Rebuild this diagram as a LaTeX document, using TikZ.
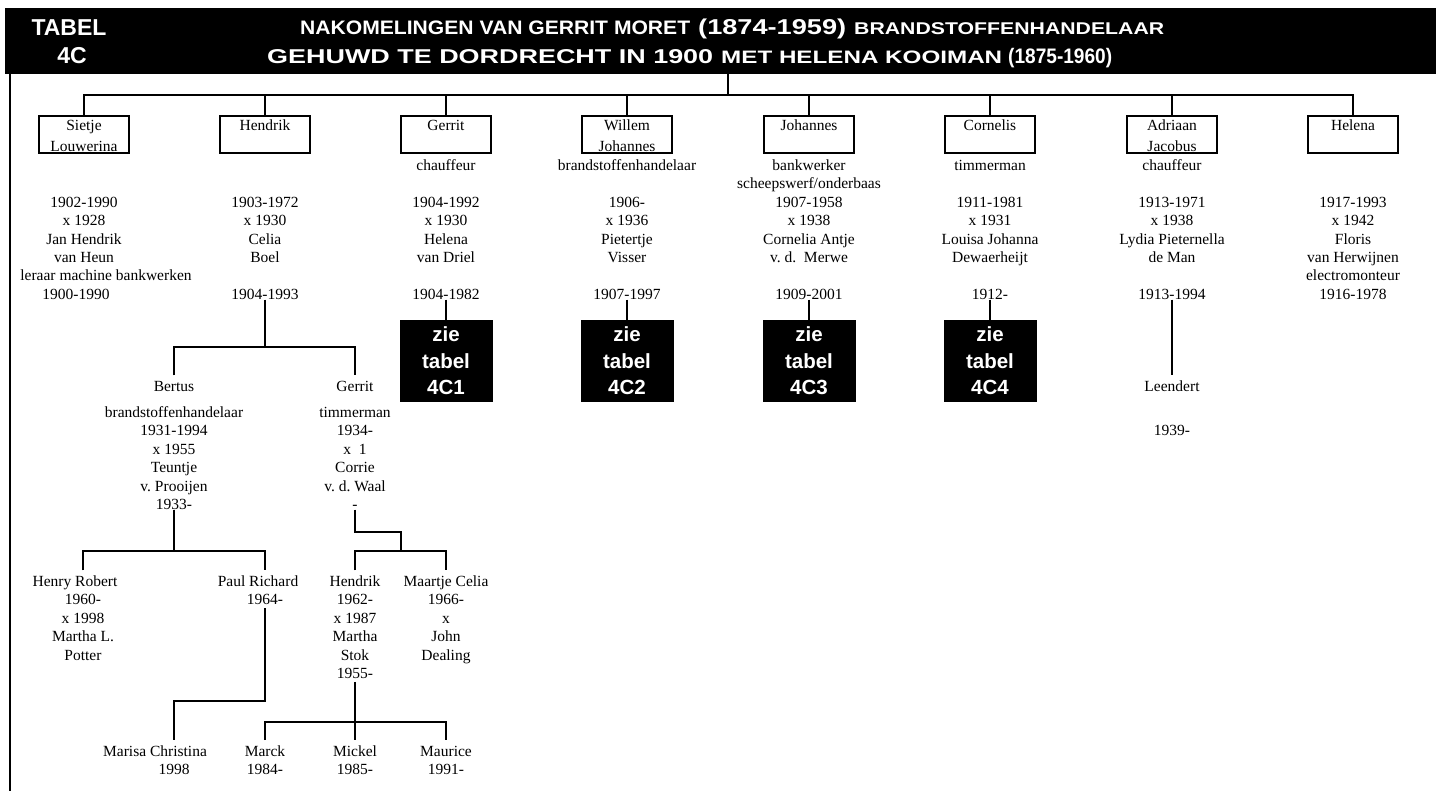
\documentclass[tikz,border=0pt]{standalone}
\usepackage{graphicx}
\usepackage{fontspec}
\setmainfont{Liberation Serif}
\newfontfamily\hsans{Liberation Sans}
\newfontfamily\zsans{Liberation Sans}
\newcommand\ls{\hspace*{16pt}}
\newcommand\hpart[3]{\resizebox{#1pt}{\height}{\hsans\bfseries\fontsize{#2}{#2}\selectfont #3}}
\begin{document}
\frenchspacing
\begin{tikzpicture}[x=1pt,y=-1pt,
  conn/.style={line width=1.8pt},
  kbox/.style={draw, line width=1.6pt, minimum width=90pt, minimum height=37pt, inner sep=0pt},
  btxt/.style={anchor=north, inner sep=0pt, align=center, yshift=-1pt, font=\fontsize{15.5}{20.5}\selectfont},
  ctxt/.style={anchor=north, inner sep=0pt, align=center, font=\fontsize{15.5}{18.4}\selectfont},
  ntxt/.style={ctxt, inner sep=3pt},
  zbox/.style={fill=black, text=white, minimum width=93pt, minimum height=82pt, inner sep=0pt, align=center, font=\zsans\bfseries\fontsize{20.5}{26.5}\selectfont},
  htxt/.style={text=white, inner sep=0pt, anchor=base west}
]
\useasboundingbox (0,0) rectangle (1436,791);
% header
\node[fill=black, inner sep=0pt, minimum width=1431pt, minimum height=66pt, anchor=north west] (hdr) at (5,8) {};
\node[htxt, anchor=base, font=\hsans\bfseries\fontsize{23}{23}\selectfont] (tb) at (69,35.5) {TABEL};
\node[htxt, anchor=base, font=\hsans\bfseries\fontsize{23}{23}\selectfont] (tc) at (72,64) {4C};
\node[htxt] (ta) at (300,34.5) {\hpart{390}{19.5}{NAKOMELINGEN VAN GERRIT MORET}};
\node[htxt] (tbd) at (698,34.5) {\hpart{148}{21.5}{(1874-1959)}};
\node[htxt] (tcc) at (854,34.5) {\hpart{310}{17}{BRANDSTOFFENHANDELAAR}};
\node[htxt] (td) at (267,64) {\hpart{446}{20}{GEHUWD TE DORDRECHT IN 1900}};
\node[htxt] (te) at (721,64) {\hpart{281}{18}{MET HELENA KOOIMAN}};
\node[htxt] (tf) at (1008,64) {\hpart{104}{21}{(1875-1960)}};
% left border
\coordinate (lbt) at (10,74);
\coordinate (lbb) at (10,791);
\draw[line width=2pt] (lbt) -- (lbb);
% children boxes
\node[kbox] (b1) at (84,134.5) {};
\node[kbox] (b2) at (265,134.5) {};
\node[kbox] (b3) at (446,134.5) {};
\node[kbox] (b4) at (627,134.5) {};
\node[kbox] (b5) at (809,134.5) {};
\node[kbox] (b6) at (990,134.5) {};
\node[kbox] (b7) at (1172,134.5) {};
\node[kbox] (b8) at (1353,134.5) {};
\node[btxt] (n1) at (b1.north) {\strut Sietje\\Louwerina};
\node[btxt] (n2) at (b2.north) {\strut Hendrik};
\node[btxt] (n3) at (b3.north) {\strut Gerrit};
\node[btxt] (n4) at (b4.north) {\strut Willem\\Johannes};
\node[btxt] (n5) at (b5.north) {\strut Johannes};
\node[btxt] (n6) at (b6.north) {\strut Cornelis};
\node[btxt] (n7) at (b7.north) {\strut Adriaan\\Jacobus};
\node[btxt] (n8) at (b8.north) {\strut Helena};
% top connectors
\coordinate (bar) at (728,95);
\draw[conn] (hdr.south -| bar) -- (bar);
\draw[conn] (b1.north) -- (b1.north |- bar) -- (b8.north |- bar) -- (b8.north);
\foreach \i in {2,...,7} \draw[conn] (b\i.north) -- (b\i.north |- bar);
% column texts
\node[ctxt] (c1) at (84,157.4) {\strut\\ \strut\\ 1902-1990\ls\\ x 1928\ls\\ Jan Hendrik\ls\\ van Heun\ls\\ \hspace*{44pt}leraar machine bankwerken\\ 1900-1990\ls};
\node[ctxt] (c2) at (265,157.4) {\strut\\ \strut\\ 1903-1972\\ x 1930\\ Celia\\ Boel\\ \strut\\ 1904-1993};
\node[ctxt] (c3) at (446,157.4) {\strut chauffeur\\ \strut\\ 1904-1992\\ x 1930\\ Helena\\ van Driel\\ \strut\\ 1904-1982};
\node[ctxt] (c4) at (627,157.4) {\strut brandstoffenhandelaar\\ \strut\\ 1906-\\ x 1936\\ Pietertje\\ Visser\\ \strut\\ 1907-1997};
\node[ctxt] (c5) at (809,157.4) {\strut bankwerker\\ scheepswerf/onderbaas\\ 1907-1958\\ x 1938\\ Cornelia Antje\\ v. d.~ Merwe\\ \strut\\ 1909-2001};
\node[ctxt] (c6) at (990,157.4) {\strut timmerman\\ \strut\\ 1911-1981\\ x 1931\\ Louisa Johanna\\ Dewaerheijt\\ \strut\\ 1912-};
\node[ctxt] (c7) at (1172,157.4) {\strut chauffeur\\ \strut\\ 1913-1971\\ x 1938\\ Lydia Pieternella\\ de Man\\ \strut\\ 1913-1994};
\node[ctxt] (c8) at (1353,157.4) {\strut\\ \strut\\ 1917-1993\\ x 1942\\ Floris\\ van Herwijnen\\ electromonteur\\ 1916-1978};
% zie tabel boxes
\node[zbox] (z1) at (446,361) {zie\\tabel\\4C1};
\node[zbox] (z2) at (627,361) {zie\\tabel\\4C2};
\node[zbox] (z3) at (809,361) {zie\\tabel\\4C3};
\node[zbox] (z4) at (990,361) {zie\\tabel\\4C4};
\draw[conn] (c3.south) -- (z1.north);
\draw[conn] (c4.south) -- (z2.north);
\draw[conn] (c5.south) -- (z3.north);
\draw[conn] (c6.south) -- (z4.north);
% Adriaan -> Leendert
\node[ntxt] (ln) at (1172,375.4) {\strut Leendert};
\node[ctxt] (ld) at (1172,422.8) {\strut 1939-};
\draw[conn] (c7.south) -- (ln.north);
% Hendrik -> Bertus, Gerrit
\coordinate (j2) at (265,347);
\node[ntxt] (bn) at (174,375.4) {\strut Bertus};
\node[ntxt] (gn) at (355,375.4) {\strut Gerrit};
\node[ctxt] (bd) at (174,404.4) {\strut brandstoffenhandelaar\\ 1931-1994\\ x 1955\\ Teuntje\\ v. Prooijen\\ 1933-};
\node[ctxt] (gd) at (355,404.4) {\strut timmerman\\ 1934-\\ x~ 1\\ Corrie\\ v. d. Waal\\ -};
\draw[conn] (c2.south) -- (j2);
\draw[conn] (bn.north) -- (bn.north |- j2) -- (gn.north |- j2) -- (gn.north);
% Bertus -> Henry Robert, Paul Richard
\coordinate (j3) at (174,551);
\node[ntxt] (hr) at (83,570.4) {\strut Henry Robert\hspace*{16pt}\\ 1960-\\ x 1998\\ Martha L.\\ Potter};
\node[ntxt] (pr) at (265,570.4) {\strut Paul Richard\hspace*{14pt}\\ 1964-};
\draw[conn] (bd.south) -- (j3);
\draw[conn] (hr.north) -- (hr.north |- j3) -- (pr.north |- j3) -- (pr.north);
% Paul Richard -> Marisa Christina
\coordinate (j4) at (174,701);
\node[ntxt] (ms) at (174,740) {\strut Marisa Christina\hspace*{38pt}\\ 1998};
\draw[conn] (pr.south) |- (j4) -- (ms.north);
% Gerrit -> Hendrik, Maartje Celia
\coordinate (j5) at (401,532);
\coordinate (j6) at (401,551);
\node[ntxt] (hk) at (355,570.4) {\strut Hendrik\\ 1962-\\ x 1987\\ Martha\\ Stok\\ 1955-};
\node[ntxt] (mc) at (446,570.4) {\strut Maartje Celia\\ 1966-\\ x\\ John\\ Dealing};
\draw[conn] (gd.south) |- (j5) -- (j6);
\draw[conn] (hk.north) -- (hk.north |- j6) -- (mc.north |- j6) -- (mc.north);
% Hendrik -> Marck, Mickel, Maurice
\coordinate (j7) at (355,722);
\node[ntxt] (mk) at (265,740) {\strut Marck\\ 1984-};
\node[ntxt] (mi) at (355,740) {\strut Mickel\\ 1985-};
\node[ntxt] (mu) at (446,740) {\strut Maurice\\ 1991-};
\draw[conn] (hk.south) -- (j7);
\draw[conn] (mk.north) -- (mk.north |- j7) -- (mu.north |- j7) -- (mu.north);
\draw[conn] (j7) -- (mi.north);
\end{tikzpicture}
\end{document}
